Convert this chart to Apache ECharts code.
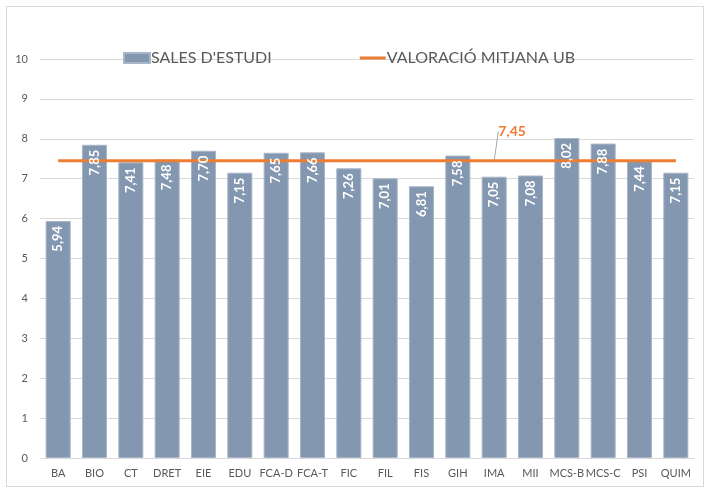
<!DOCTYPE html>
<html>
<head>
<meta charset="utf-8">
<script src="https://cdn.jsdelivr.net/npm/echarts@6/dist/echarts.min.js"></script>
<style>
  html, body { margin: 0; padding: 0; background: #fff; }
  .frame {
    position: absolute;
    left: 6px; top: 6px;
    width: 696px; height: 479px;
    border: 1px solid #d9d9d9;
  }
  .chart { position: absolute; left: 0; top: 0; width: 710px; height: 492px; }
</style>
</head>
<body>
<div class="frame"></div>
<div class="chart"></div>
<script>
const categories = ['BA', 'BIO', 'CT', 'DRET', 'EIE', 'EDU', 'FCA-D', 'FCA-T', 'FIC', 'FIL', 'FIS', 'GIH', 'IMA', 'MII', 'MCS-B', 'MCS-C', 'PSI', 'QUIM']
const salesValues = [5.94, 7.85, 7.41, 7.48, 7.70, 7.15, 7.65, 7.66, 7.26, 7.01, 6.81, 7.58, 7.05, 7.08, 8.02, 7.88, 7.44, 7.15]
const avgValue = 7.45
const avgLabelIndex = 12
const yTicks = [0, 10, 1]

const fontFamily = 'Lato, "Open Sans", sans-serif'
const fmt = v => v.toFixed(2).replace('.', ',')

const avgData = categories.map((c, i) => {
  if (i !== avgLabelIndex) return avgValue
  return {
    value: avgValue,
    label: {
      show: true,
      formatter: () => fmt(avgValue),
      color: '#ED7D31',
      fontWeight: 'bold',
      fontSize: 14,
      fontFamily: fontFamily
    },
    labelLine: { show: true, lineStyle: { color: '#a6a6a6', width: 1 } }
  }
})

const chart = echarts.init(document.querySelector('.chart'))
chart.setOption({
  animation: false,
  grid: { left: 40, right: 16, top: 59, bottom: 34 },
  legend: {
    top: 50,
    left: 123,
    padding: 0,
    itemGap: 88,
    itemWidth: 26,
    itemHeight: 10,
    textStyle: { color: '#595959', fontSize: 16, fontFamily: fontFamily, padding: [0, 0, 0, -4] },
    data: [
      { name: "SALES D'ESTUDI", icon: 'rect' },
      { name: 'VALORACIÓ MITJANA UB', icon: 'path://M0,0H26V3H0Z' }
    ]
  },
  xAxis: {
    type: 'category',
    data: categories,
    axisTick: { show: false },
    axisLine: { lineStyle: { color: '#d9d9d9' } },
    axisLabel: { color: '#595959', fontSize: 11, fontFamily: fontFamily, margin: 10, interval: 0 }
  },
  yAxis: {
    type: 'value',
    min: yTicks[0],
    max: yTicks[1],
    interval: yTicks[2],
    axisLabel: { color: '#595959', fontSize: 11, fontFamily: fontFamily, margin: 12 },
    splitLine: { lineStyle: { color: '#d9d9d9' } }
  },
  series: [
    {
      name: "SALES D'ESTUDI",
      type: 'bar',
      data: salesValues,
      barCategoryGap: '31%',
      itemStyle: { color: '#8497B0', borderColor: '#a9b6c8', borderWidth: 1 },
      z: 2
    },
    {
      name: 'VALORACIÓ MITJANA UB',
      type: 'line',
      data: avgData,
      symbol: 'circle',
      symbolSize: 0,
      showSymbol: true,
      lineStyle: { color: '#ED7D31', width: 3 },
      itemStyle: { color: '#ED7D31' },
      labelLayout: { dx: 18, dy: -17 },
      z: 3
    },
    {
      // transparent copy of the bars, only to draw the value labels above the line
      name: 'labels',
      type: 'bar',
      data: salesValues,
      barGap: '-100%',
      barCategoryGap: '31%',
      itemStyle: { color: 'rgba(0,0,0,0)' },
      silent: true,
      z: 4,
      label: {
        show: true,
        position: 'insideTop',
        rotate: 90,
        align: 'right',
        verticalAlign: 'middle',
        distance: 5,
        color: '#fff',
        fontWeight: 'bold',
        fontSize: 13,
        fontFamily: fontFamily,
        formatter: p => fmt(p.value)
      }
    }
  ]
})
</script>
</body>
</html>
